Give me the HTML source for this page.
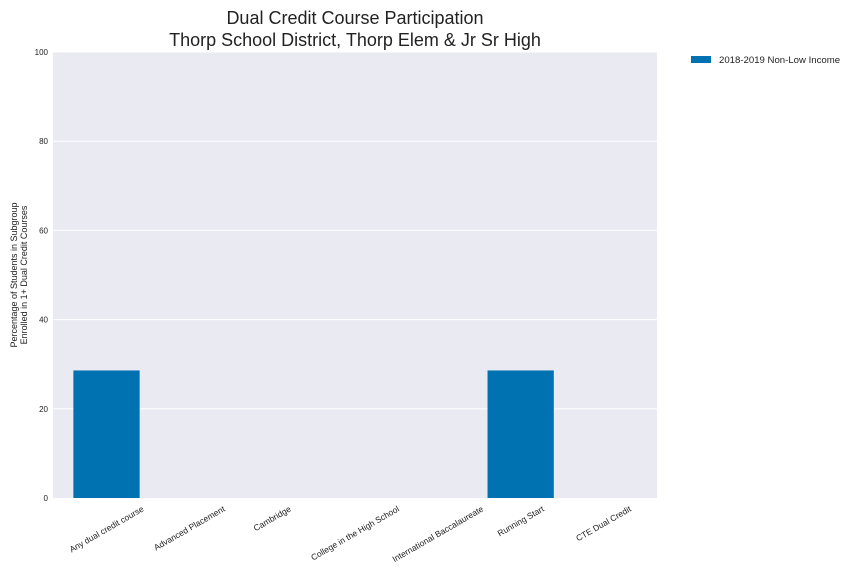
<!DOCTYPE html>
<html><head><meta charset="utf-8"><style>
body{margin:0;background:#fff;}
svg{display:block;font-family:"Liberation Sans",Arial,sans-serif;}
</style></head><body>
<svg id="chart" width="864" height="576" viewBox="0 0 864 576" xmlns="http://www.w3.org/2000/svg">
<text x="355" y="24" text-anchor="middle" font-size="18" fill="#222">Dual Credit Course Participation</text>
<text x="355" y="46" text-anchor="middle" font-size="18" fill="#222">Thorp School District, Thorp Elem &amp; Jr Sr High</text>
<rect x="53" y="52" width="604" height="446" fill="#eaeaf2"/>
<g id="grid"></g>
<g id="bars"></g>
<g id="yticks"></g>
<g id="xticks"></g>
<text transform="translate(17,275) rotate(-90)" text-anchor="middle" font-size="9" fill="#222"><tspan x="0" dy="0">Percentage of Students in Subgroup</tspan><tspan x="0" dy="10">Enrolled in 1+ Dual Credit Courses</tspan></text>
<g>
<rect x="691" y="56" width="20" height="7" fill="#0072b2"/>
<text x="719" y="63" font-size="9.6" fill="#222">2018-2019 Non-Low Income</text>
</g>
</svg>
<script>
const categories = ["Any dual credit course","Advanced Placement","Cambridge","College in the High School","International Baccalaureate","Running Start","CTE Dual Credit"];
const values = [28.6, 0, 0, 0, 0, 28.6, 0];
const yTicks = [0, 20, 40, 60, 80, 100];
const NS = "http://www.w3.org/2000/svg";
const L=53, R=657, T=52, B=498;
const xmin=-0.646, xmax=6.646;
function xs(i){return L+(i-xmin)/(xmax-xmin)*(R-L);}
function ys(v){return B-v/100*(B-T);}
const unit=(R-L)/(xmax-xmin);
function mk(tag,attrs,parent){const e=document.createElementNS(NS,tag);for(const k in attrs)e.setAttribute(k,attrs[k]);document.getElementById(parent).appendChild(e);return e;}
yTicks.forEach(t=>{
  if(t>0){const g=mk('line',{x1:L,x2:R,y1:ys(t),y2:ys(t),stroke:'#fff','stroke-width':1},'grid');
  
  }
  const tx=mk('text',{x:48,y:ys(t)+3,'text-anchor':'end','font-size':8,fill:'#222'},'yticks');
  tx.textContent=t;
  
  
});
categories.forEach((c,i)=>{
  const w=0.8*unit;
  if(values[i]>0){const b=mk('rect',{x:xs(i)-w/2,y:ys(values[i]),width:w,height:ys(0)-ys(values[i]),fill:'#0072b2'},'bars');
  
  }
  const tx=mk('text',{'text-anchor':'middle','font-size':8.5,fill:'#222'},'xticks');
  tx.textContent=c;
  
  
  const tw=tx.getComputedTextLength();
  const x=xs(i), y=503+tw/4+5+3;
  tx.setAttribute('x',x);
  tx.setAttribute('y',y);
  tx.setAttribute('transform',`rotate(-30 ${x} ${y-3})`);
});
</script>
</body></html>
